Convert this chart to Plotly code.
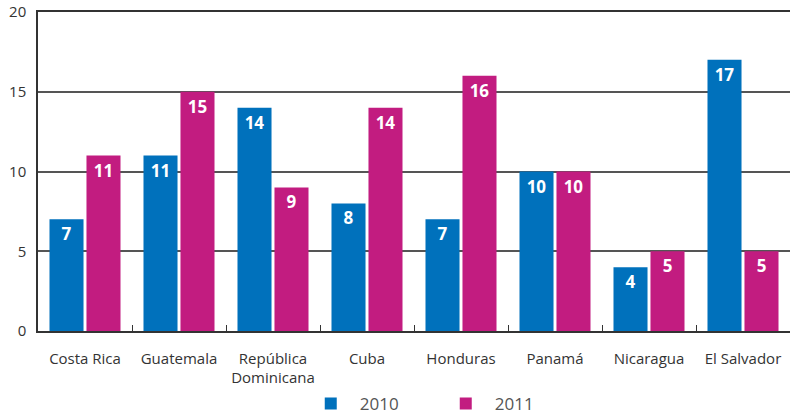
import plotly.graph_objects as go

categories = ["Costa Rica", "Guatemala", "República<br>Dominicana", "Cuba",
              "Honduras", "Panamá", "Nicaragua", "El Salvador"]
values_2010 = [7, 11, 14, 8, 7, 10, 4, 17]
values_2011 = [11, 15, 9, 14, 16, 10, 5, 5]
series_names = ["2010", "2011"]
y_ticks = [0, 5, 10, 15, 20]

BLUE = "#0071BC"
MAGENTA = "#C21C80"
FONT = "Open Sans, Noto Sans, sans-serif"

fig = go.Figure()
for name, vals, col in [(series_names[0], values_2010, BLUE),
                        (series_names[1], values_2011, MAGENTA)]:
    fig.add_trace(go.Bar(
        x=categories, y=vals, name=name, marker_color=col,
        marker_line_width=0,
        text=[str(v) for v in vals], textposition="inside",
        insidetextanchor="end", textangle=0,
        textfont=dict(color="white", size=17, family=FONT, weight="bold"),
        cliponaxis=False,
    ))

fig.update_layout(
    width=792, height=414,
    margin=dict(l=38, r=2, t=12, b=83, autoexpand=False),
    plot_bgcolor="white", paper_bgcolor="white",
    barmode="group", bargap=0.213, bargroupgap=0.08,
    font=dict(family=FONT, size=14, color="#333333"),
    uniformtext=dict(minsize=17, mode="show"),
    showlegend=True,
    legend=dict(orientation="h", xref="container", yref="container",
                x=0.381, xanchor="left", y=0.024, yanchor="middle",
                font=dict(size=17, color="#555555"),
                itemwidth=48,
                entrywidth=72, entrywidthmode="pixels",
                traceorder="normal"),
    xaxis=dict(
        automargin=False, tickangle=0,
        showline=True, mirror=True, linecolor="#333333", linewidth=1.5,
        ticks="inside", tickson="boundaries", ticklen=6, tickcolor="#333333",
        tickwidth=1.2, showgrid=False,
        tickfont=dict(size=15, color="#333333"),
        ticklabelstandoff=13,
        range=[-0.5, 7.5],
    ),
    yaxis=dict(
        automargin=False,
        range=[0, 20], tickvals=y_ticks, showgrid=True,
        gridcolor="#555555", gridwidth=1.5,
        showline=True, linecolor="#333333", linewidth=1.5,
        zeroline=False, ticks="", ticklabelstandoff=7,
        tickfont=dict(size=15, color="#333333"),
    ),
)

fig.write_html("out.html", config={"displayModeBar": False},
               post_script="document.body.style.margin='0';document.body.style.padding='0';")
